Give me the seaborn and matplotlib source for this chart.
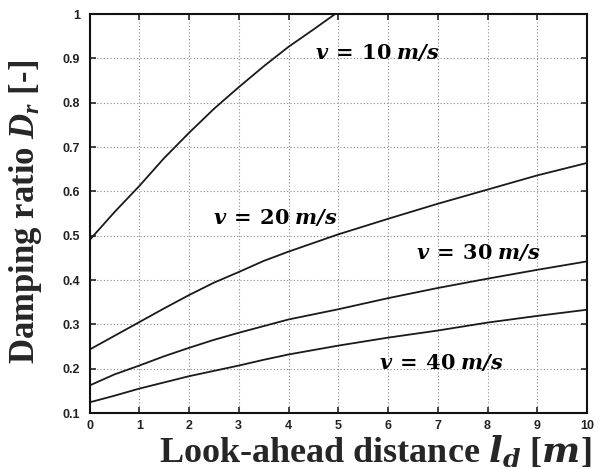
import numpy as np
import pandas as pd
import matplotlib
matplotlib.use("Agg")
import matplotlib.pyplot as plt
import seaborn as sns

# Look-ahead distance samples
x_v10 = [0, 0.5, 1, 1.5, 2, 2.5, 3, 3.5, 4, 4.5, 5]
v10 = [0.49, 0.553, 0.612, 0.675, 0.732, 0.786, 0.835, 0.882, 0.926, 0.965, 1.005]
x_vals = [0, 0.5, 1, 1.5, 2, 2.5, 3, 3.5, 4, 5, 6, 7, 8, 9, 10]
v20 = [0.243, 0.274, 0.305, 0.336, 0.366, 0.394, 0.418, 0.443, 0.464, 0.503, 0.538, 0.572, 0.604, 0.636, 0.664]
v30 = [0.162, 0.187, 0.207, 0.228, 0.247, 0.265, 0.281, 0.296, 0.311, 0.334, 0.359, 0.382, 0.403, 0.423, 0.442]
v40 = [0.124, 0.139, 0.155, 0.169, 0.183, 0.195, 0.207, 0.22, 0.232, 0.252, 0.27, 0.286, 0.304, 0.319, 0.333]
x_ticks = [0, 1, 2, 3, 4, 5, 6, 7, 8, 9, 10]
y_ticks = [0.1, 0.2, 0.3, 0.4, 0.5, 0.6, 0.7, 0.8, 0.9, 1.0]
y_tick_labels = ["0.1", "0.2", "0.3", "0.4", "0.5", "0.6", "0.7", "0.8", "0.9", "1"]
labels = [r"$\mathsf{v}\ =\ \mathbf{10}\ \mathsf{m/s}$", r"$\mathsf{v}\ =\ \mathbf{20}\ \mathsf{m/s}$",
          r"$\mathsf{v}\ =\ \mathbf{30}\ \mathsf{m/s}$", r"$\mathsf{v}\ =\ \mathbf{40}\ \mathsf{m/s}$"]
label_pos = [(4.53, 0.914), (2.48, 0.542), (6.56, 0.463), (5.82, 0.215)]

sns.set_style("ticks")
plt.rcParams["mathtext.fontset"] = "custom"
plt.rcParams["mathtext.it"] = "Liberation Serif:italic:bold"
plt.rcParams["mathtext.sf"] = "DejaVu Serif:italic:bold"
plt.rcParams["mathtext.rm"] = "DejaVu Serif:bold"
plt.rcParams["mathtext.bf"] = "DejaVu Serif:bold"

df = pd.concat([
    pd.DataFrame({"x": x_v10, "y": v10, "s": "10"}),
    pd.DataFrame({"x": x_vals, "y": v20, "s": "20"}),
    pd.DataFrame({"x": x_vals, "y": v30, "s": "30"}),
    pd.DataFrame({"x": x_vals, "y": v40, "s": "40"}),
])

fig = plt.figure(figsize=(5.98, 4.69), dpi=100)
ax = fig.add_axes([0.1497, 0.1194, 0.8319, 0.8507])
sns.lineplot(data=df, x="x", y="y", units="s", estimator=None, color="#1a1a1a",
             linewidth=1.3, ax=ax, legend=False, sort=True)

ax.set_xlim(0, 10)
ax.set_ylim(0.1, 1.0)
ax.set_xticks(x_ticks)
ax.set_yticks(y_ticks)
ax.set_yticklabels(y_tick_labels)
ax.grid(True, linestyle=(0, (1, 2)), color="#8a8a8a", linewidth=0.8)
ax.tick_params(direction="in", top=True, right=True, length=4, width=1.2,
               labelsize=9)
ax.tick_params(axis="y", pad=7)
ax.tick_params(axis="x", pad=5)
for lab in ax.get_xticklabels() + ax.get_yticklabels():
    lab.set_fontweight("bold")
    lab.set_fontfamily("Liberation Sans")
    lab.set_color("#222222")
for sp in ax.spines.values():
    sp.set_linewidth(1.5)
    sp.set_color("#111111")

ax.set_xlabel(r"Look-ahead distance $\mathsf{l_d}$ [$\mathsf{m}$]",
              fontsize=26, fontweight="bold", fontfamily="Liberation Serif")
ax.set_ylabel(r"Damping ratio $D_r$ [-]", fontsize=25, fontweight="bold",
              fontfamily="Liberation Serif")
ax.xaxis.set_label_coords(0.574, -0.052)
ax.yaxis.set_label_coords(-0.092, 0.505)

for t, (px, py) in zip(labels, label_pos):
    ax.text(px, py, t, fontsize=15, ha="left", va="center", color="black")

fig.savefig("out.png", dpi=100)
